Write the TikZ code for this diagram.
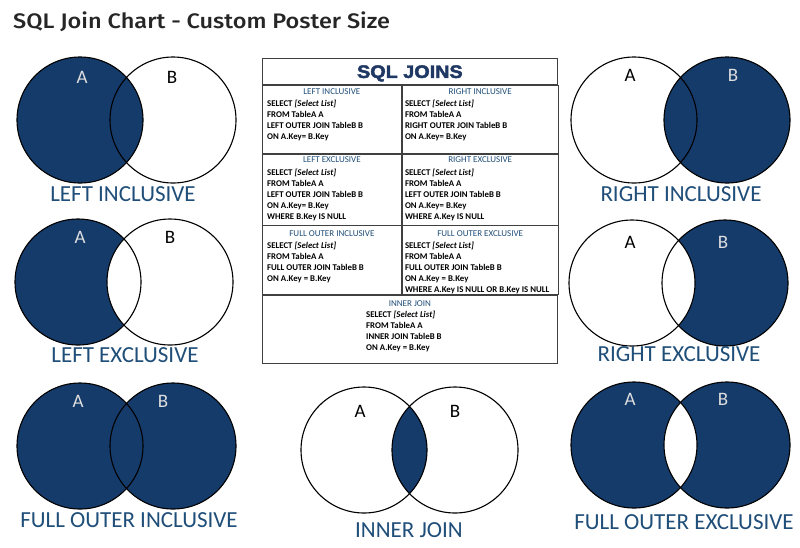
\documentclass[tikz,border=0pt]{standalone}
\usepackage{fontspec}
\setmainfont{Carlito}
\newfontfamily\titlefont{Fira Sans Medium}[FakeStretch=1.12]
\newfontfamily\bannerfont{Liberation Sans}[FakeStretch=1.1, FakeBold=2.5]
\usetikzlibrary{positioning, backgrounds}

\definecolor{setblue}{RGB}{21,59,107}
\definecolor{nameblue}{RGB}{31,78,121}
\definecolor{bannerblue}{RGB}{31,56,100}
\definecolor{letterwhite}{RGB}{222,222,222}

\tikzset{
  venn/.style={circle, draw=black, line width=1.1pt, minimum size=126pt, inner sep=0pt},
  setletter/.style={inner sep=0pt, text height=12.3pt, text depth=0pt,
                    font=\fontsize{19}{19}\selectfont},
  joinname/.style={inner sep=0pt, text height=14.8pt, text depth=0pt, text=nameblue,
                   font=\fontsize{23}{23}\selectfont},
  cellbox/.style={draw=black!75, line width=0.8pt, inner sep=0pt, anchor=north west},
  cellhead/.style={inner sep=0pt, text height=5.7pt, text depth=0pt, text=nameblue,
                   font=\fontsize{9}{11}\selectfont},
  code/.style={inner sep=0pt, align=left, font=\bfseries\fontsize{8.8}{11}\selectfont},
}

\begin{document}
\begin{tikzpicture}[x=1pt, y=-1pt]
  \useasboundingbox (0,0) rectangle (800,547);

  \node[anchor=base west, inner sep=0pt, text=black!85,
        font=\titlefont\fontsize{21}{21}\selectfont] (title) at (13,28)
        {SQL Join Chart - Custom Poster Size};

  % venn diagrams
  \node[venn] (liA) at (80,120) {};
  \node[venn] (liB) at (173,120) {};
  \node[venn] (leA) at (78,282) {};
  \node[venn] (leB) at (170,282) {};
  \node[venn] (foiA) at (80,446) {};
  \node[venn] (foiB) at (173,446) {};
  \node[venn] (riA) at (634,120) {};
  \node[venn] (riB) at (727,120) {};
  \node[venn] (reA) at (632,283) {};
  \node[venn] (reB) at (725,283) {};
  \node[venn] (foeA) at (634,445) {};
  \node[venn] (foeB) at (727,445) {};
  \node[venn] (ijA) at (364,450) {};
  \node[venn] (ijB) at (455,450) {};

  \begin{scope}[on background layer]
    \fill[white] (0,0) rectangle (800,547);
    \fill[setblue] (liA.center) circle[radius=63pt];
    \fill[setblue] (leA.center) circle[radius=63pt];
    \begin{scope}
      \clip (leA.center) circle[radius=63pt];
      \fill[white] (leB.center) circle[radius=63pt];
    \end{scope}
    \fill[setblue] (foiA.center) circle[radius=63pt];
    \fill[setblue] (foiB.center) circle[radius=63pt];
    \fill[setblue] (riB.center) circle[radius=63pt];
    \fill[setblue] (reB.center) circle[radius=63pt];
    \begin{scope}
      \clip (reB.center) circle[radius=63pt];
      \fill[white] (reA.center) circle[radius=63pt];
    \end{scope}
    \fill[setblue] (foeA.center) circle[radius=63pt];
    \fill[setblue] (foeB.center) circle[radius=63pt];
    \begin{scope}
      \clip (foeA.center) circle[radius=63pt];
      \fill[white] (foeB.center) circle[radius=63pt];
    \end{scope}
    \begin{scope}
      \clip (ijA.center) circle[radius=63pt];
      \fill[setblue] (ijB.center) circle[radius=63pt];
    \end{scope}
  \end{scope}

  \node[setletter, text=letterwhite, below=14.8pt of liA.north, xshift=2pt] {A};
  \node[setletter, below=14.8pt of liB.north, xshift=-1pt] {B};
  \node[setletter, text=letterwhite, below=12.8pt of leA.north, xshift=2pt] {A};
  \node[setletter, below=12.8pt of leB.north] {B};
  \node[setletter, text=letterwhite, below=12.8pt of foiA.north, xshift=-2pt] {A};
  \node[setletter, text=letterwhite, below=12.8pt of foiB.north, xshift=-10pt] {B};
  \node[setletter, below=12.8pt of riA.north, xshift=-4pt] {A};
  \node[setletter, text=letterwhite, below=12.8pt of riB.north, xshift=6pt] {B};
  \node[setletter, below=16.8pt of reA.north, xshift=-2pt] {A};
  \node[setletter, text=letterwhite, below=16.8pt of reB.north, xshift=-2pt] {B};
  \node[setletter, text=letterwhite, below=11.8pt of foeA.north, xshift=-4pt] {A};
  \node[setletter, text=letterwhite, below=11.8pt of foeB.north, xshift=-4pt] {B};
  \node[setletter, below=18.8pt of ijA.north, xshift=-4pt] {A};
  \node[setletter, below=18.8pt of ijB.north] {B};

  \node[joinname] (liname) at (123,194) {LEFT INCLUSIVE};
  \node[joinname] (lename) at (125,355) {LEFT EXCLUSIVE};
  \node[joinname] (foiname) at (129,520) {FULL OUTER INCLUSIVE};
  \node[joinname] (riname) at (681,194) {RIGHT INCLUSIVE};
  \node[joinname] (rename) at (679,354) {RIGHT EXCLUSIVE};
  \node[joinname] (foename) at (684,522) {FULL OUTER EXCLUSIVE};
  \node[joinname] (ijname) at (409,530) {INNER JOIN};

  % the SQL table
  \node[cellbox, minimum width=295pt, minimum height=26pt] (head) at (262,58) {};
  \node[cellbox, minimum width=139pt, minimum height=68pt,
        below right=0pt and 0pt of head.south west] (lic) {};
  \node[cellbox, minimum width=156pt, minimum height=68pt,
        below right=0pt and 0pt of lic.north east] (ric) {};
  \node[cellbox, minimum width=139pt, minimum height=71pt,
        below right=0pt and 0pt of lic.south west] (lec) {};
  \node[cellbox, minimum width=156pt, minimum height=71pt,
        below right=0pt and 0pt of lec.north east] (rec) {};
  \node[cellbox, minimum width=139pt, minimum height=69pt,
        below right=0pt and 0pt of lec.south west] (foic) {};
  \node[cellbox, minimum width=156pt, minimum height=69pt,
        below right=0pt and 0pt of foic.north east] (foec) {};
  \node[cellbox, minimum width=295pt, minimum height=68pt,
        below right=0pt and 0pt of foic.south west] (ijc) {};

  \node[inner sep=0pt, text height=13pt, text depth=0pt, text=bannerblue,
        font=\bannerfont\bfseries\fontsize{18}{18}\selectfont] (banner) at (head.center) {SQL JOINS};

  \node[cellhead, below=4.2pt of lic.north] {LEFT INCLUSIVE};
  \node[cellhead, below=4.2pt of ric.north] {RIGHT INCLUSIVE};
  \node[cellhead, below=3.2pt of lec.north] {LEFT EXCLUSIVE};
  \node[cellhead, below=3.2pt of rec.north] {RIGHT EXCLUSIVE};
  \node[cellhead, below=5.2pt of foic.north] {FULL OUTER INCLUSIVE};
  \node[cellhead, below=5.2pt of foec.north] {FULL OUTER EXCLUSIVE};
  \node[cellhead, below=5.2pt of ijc.north] {INNER JOIN};

  \node[code, below right=15pt and 5pt of lic.north west]
    {SELECT \textit{[Select List]}\\FROM TableA A\\LEFT OUTER JOIN TableB B\\ON A.Key= B.Key};
  \node[code, below right=15pt and 3pt of ric.north west]
    {SELECT \textit{[Select List]}\\FROM TableA A\\RIGHT OUTER JOIN TableB B\\ON A.Key= B.Key};
  \node[code, below right=15pt and 5pt of lec.north west]
    {SELECT \textit{[Select List]}\\FROM TableA A\\LEFT OUTER JOIN TableB B\\ON A.Key= B.Key\\WHERE B.Key IS NULL};
  \node[code, below right=15pt and 3pt of rec.north west]
    {SELECT \textit{[Select List]}\\FROM TableA A\\LEFT OUTER JOIN TableB B\\ON A.Key= B.Key\\WHERE A.Key IS NULL};
  \node[code, below right=16pt and 5pt of foic.north west]
    {SELECT \textit{[Select List]}\\FROM TableA A\\FULL OUTER JOIN TableB B\\ON A.Key = B.Key};
  \node[code, below right=16pt and 3pt of foec.north west]
    {SELECT \textit{[Select List]}\\FROM TableA A\\FULL OUTER JOIN TableB B\\ON A.Key = B.Key\\WHERE A.Key IS NULL OR B.Key IS NULL};
  \node[code, below right=16pt and 104pt of ijc.north west]
    {SELECT \textit{[Select List]}\\FROM TableA A\\INNER JOIN TableB B\\ON A.Key = B.Key};
\end{tikzpicture}
\end{document}
